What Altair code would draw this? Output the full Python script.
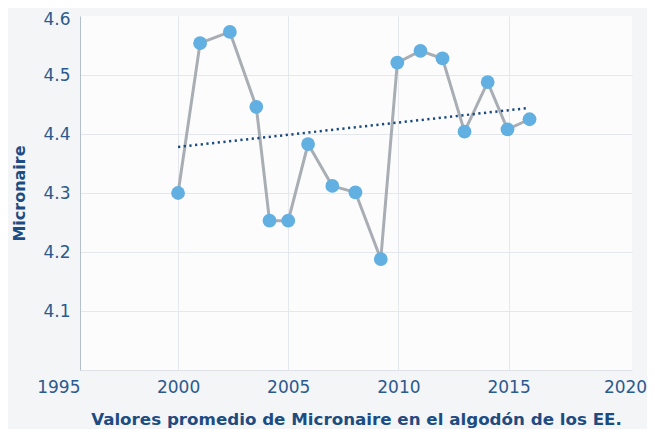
import altair as alt
import pandas as pd

years = [2000, 2001, 2002.35, 2003.55, 2004.15, 2005, 2005.9, 2007, 2008.05, 2009.2,
         2009.95, 2011, 2012, 2013, 2014.05, 2014.95, 2015.95]
values = [4.30, 4.554, 4.573, 4.446, 4.253, 4.253, 4.383, 4.312, 4.301, 4.188,
          4.521, 4.541, 4.528, 4.404, 4.488, 4.408, 4.425]
trend_years = [2000, 2015.9]
trend_values = [4.378, 4.444]
x_ticks = [1995.55, 2000, 2005, 2010, 2015, 2020.6]
y_ticks = [4.1, 4.2, 4.3, 4.4, 4.5, 4.6]

df = pd.DataFrame({"year": years, "value": values})
tdf = pd.DataFrame({"year": trend_years, "value": trend_values})

FONT = "DejaVu Sans"
LABEL = "#2b5a8e"
TITLE = "#1d4c82"

x_enc = alt.X(
    "year:Q",
    scale=alt.Scale(domain=[1995.55, 2020.6], nice=False, zero=False),
    axis=alt.Axis(
        values=x_ticks,
        labelExpr="datum.value < 1996 ? '1995' : (datum.value > 2020 ? '2020' : format(datum.value, 'd'))",
        labelAlign={"condition": {"test": "datum.value < 1996", "value": "right"}, "value": "center"},
        labelOffset={"condition": {"test": "datum.value > 2020", "value": -7}, "value": 0},
        title="Valores promedio de Micronaire en el algodón de los EE.",
        gridColor={"condition": {"test": "datum.value > 2020 || datum.value < 1996", "value": "rgba(0,0,0,0)"}, "value": "#e4e7eb"},
        domainColor="#dfe3e8",
        ticks=False,
        labelPadding=9,
        titlePadding=16,
        titleFontSize=16.7,
    ),
)
y_enc = alt.Y(
    "value:Q",
    scale=alt.Scale(domain=[4.0, 4.6], nice=False, zero=False),
    axis=alt.Axis(
        values=y_ticks,
        format=".1f",
        title="Micronaire",
        gridColor={"condition": {"test": "datum.value > 4.55", "value": "rgba(0,0,0,0)"}, "value": "#e4e7eb"},
        labelOffset={"condition": {"test": "datum.value > 4.55", "value": 3}, "value": 0},
        domainColor="#b3bfcb",
        ticks=False,
        labelPadding=10,
        titlePadding=15,
    ),
)

line = alt.Chart(df).mark_line(color="#a8aeb4", strokeWidth=3).encode(x=x_enc, y=y_enc)
pts = alt.Chart(df).mark_circle(color="#62afe1", opacity=1, size=190).encode(x="year:Q", y="value:Q")
trend = alt.Chart(tdf).mark_line(color="#1b4a7f", strokeWidth=2.5, strokeDash=[2.2, 3.5]).encode(
    x="year:Q", y="value:Q"
)

chart = alt.layer(line, trend, pts).properties(
    width=552,
    height=354,
    autosize=alt.AutoSizeParams(type="none"),
    padding={"left": 72, "top": 8, "right": 15, "bottom": 59},
    background="#f4f5f7",
).configure_view(fill="#fcfcfd", strokeWidth=0).configure_axis(
    labelFont=FONT,
    labelFontSize=17,
    labelColor=LABEL,
    titleFont=FONT,
    titleFontSize=16,
    titleFontWeight="bold",
    titleColor=TITLE,
)

chart.save("out.html", embed_options={"renderer": "svg", "actions": False})
